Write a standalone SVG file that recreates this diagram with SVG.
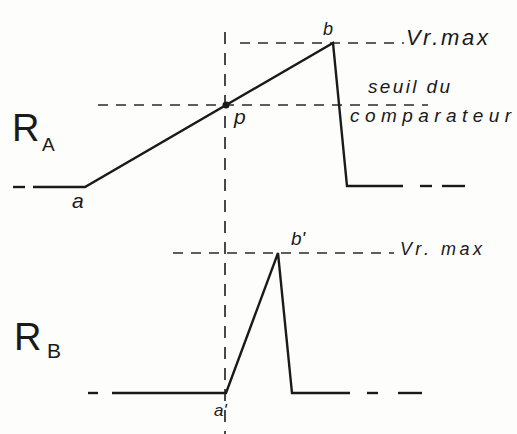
<svg xmlns="http://www.w3.org/2000/svg" width="517" height="434" viewBox="0 0 517 434">
<style>
.bg{fill:#fdfdfb}
.sig{fill:none;stroke:#1a1a1a;stroke-width:2.4;stroke-linejoin:miter;stroke-linecap:butt}
.dh{fill:none;stroke:#2a2a2a;stroke-width:1.7;stroke-dasharray:10 8}
.dv{fill:none;stroke:#2a2a2a;stroke-width:1.7;stroke-dasharray:12 9}
.t{font-family:"Liberation Sans","DejaVu Sans",sans-serif;font-style:italic;fill:#1a1a1a}
.big{font-family:"Liberation Sans","DejaVu Sans",sans-serif;fill:#1a1a1a}
</style>
<rect class="bg" x="0" y="0" width="517" height="434"/>
<g id="guides">
<line class="dv" x1="225" y1="32" x2="225" y2="434"/>
<line class="dh" x1="240" y1="43" x2="404" y2="43"/>
<line class="dh" x1="98" y1="105" x2="428" y2="105"/>
<line class="dh" x1="173" y1="253" x2="394" y2="253"/>
</g>
<g id="signal-RA">
<line class="sig" x1="13" y1="187" x2="25" y2="187"/>
<polyline class="sig" points="33,187 85,187 333,43 347,186 403,186"/>
<line class="sig" x1="420" y1="186" x2="432" y2="186"/>
<line class="sig" x1="442" y1="186" x2="465" y2="186"/>
<circle cx="226" cy="105" r="3.5" fill="#1a1a1a"/>
</g>
<g id="signal-RB">
<line class="sig" x1="88" y1="393" x2="98" y2="393"/>
<polyline class="sig" points="112,393 226,393 278,253 292,393 350,393"/>
<line class="sig" x1="367" y1="393" x2="378" y2="393"/>
<line class="sig" x1="398" y1="393" x2="422" y2="393"/>
</g>
<g id="labels">
<text class="big" x="12" y="141" font-size="38">R</text>
<text class="big" x="42" y="151" font-size="19">A</text>
<text class="big" x="14" y="350" font-size="38">R</text>
<text class="big" x="47" y="358" font-size="21">B</text>
<text class="t" x="72" y="208" font-size="21">a</text>
<text class="t" x="234" y="124" font-size="21">p</text>
<text class="t" x="323" y="35" font-size="18">b</text>
<text class="t" x="291" y="245" font-size="19">b'</text>
<text class="t" x="214" y="416" font-size="17">a'</text>
<text class="t" x="406" y="45" font-size="22" textLength="82" lengthAdjust="spacing">Vr.max</text>
<text class="t" x="368" y="93" font-size="19" textLength="82" lengthAdjust="spacing">seuil du</text>
<text class="t" x="350" y="122" font-size="19" textLength="161" lengthAdjust="spacing">comparateur</text>
<text class="t" x="400" y="255" font-size="18" textLength="82" lengthAdjust="spacing">Vr. max</text>
</g>
</svg>
